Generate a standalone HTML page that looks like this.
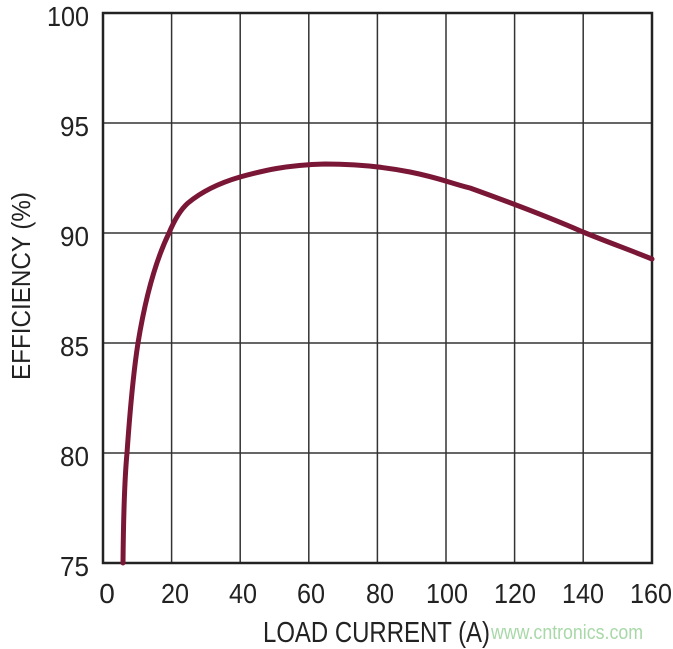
<!DOCTYPE html>
<html><head><style>
body{margin:0;background:#fff;}
svg{display:block;font-family:"Liberation Sans",sans-serif;}
</style></head><body>
<svg width="673" height="649" viewBox="0 0 673 649">
<g stroke="#333" stroke-width="1.5">
<line x1="171.6" y1="13" x2="171.6" y2="563"/>
<line x1="240.2" y1="13" x2="240.2" y2="563"/>
<line x1="308.8" y1="13" x2="308.8" y2="563"/>
<line x1="377.4" y1="13" x2="377.4" y2="563"/>
<line x1="446" y1="13" x2="446" y2="563"/>
<line x1="514.6" y1="13" x2="514.6" y2="563"/>
<line x1="583.2" y1="13" x2="583.2" y2="563"/>
<line x1="103" y1="123" x2="652" y2="123"/>
<line x1="103" y1="233" x2="652" y2="233"/>
<line x1="103" y1="343" x2="652" y2="343"/>
<line x1="103" y1="453" x2="652" y2="453"/>
</g>
<rect x="103" y="13" width="549" height="550" fill="none" stroke="#222" stroke-width="2.5"/>
<path d="M123,563 C123.5,510 124.5,480 127,453 C130,410 133,375 138,343 C145,300 155,262 169,233 C174,221 180,210 188,203 C200,193 216,184 240,177 C262,171 285,165 325,164 C350,164 380,166 410,172 C440,178 450,183 470,188 C520,206 560,222 583,232 C610,243 630,250 652,259" fill="none" stroke="#7a1737" stroke-width="5" stroke-linecap="round"/>
<g font-size="28" fill="#222" text-anchor="end">
<text x="89" y="26" textLength="42" lengthAdjust="spacingAndGlyphs">100</text>
<text x="89" y="136" textLength="29" lengthAdjust="spacingAndGlyphs">95</text>
<text x="89" y="246" textLength="29" lengthAdjust="spacingAndGlyphs">90</text>
<text x="89" y="356" textLength="29" lengthAdjust="spacingAndGlyphs">85</text>
<text x="89" y="466" textLength="29" lengthAdjust="spacingAndGlyphs">80</text>
<text x="89" y="576" textLength="29" lengthAdjust="spacingAndGlyphs">75</text>
</g>
<g font-size="28" fill="#222" text-anchor="middle" transform="translate(0,603)">
<text x="107" y="0">0</text>
<text x="175" y="0" textLength="28" lengthAdjust="spacingAndGlyphs">20</text>
<text x="243" y="0" textLength="28" lengthAdjust="spacingAndGlyphs">40</text>
<text x="311" y="0" textLength="28" lengthAdjust="spacingAndGlyphs">60</text>
<text x="380" y="0" textLength="28" lengthAdjust="spacingAndGlyphs">80</text>
<text x="447" y="0" textLength="42" lengthAdjust="spacingAndGlyphs">100</text>
<text x="515" y="0" textLength="42" lengthAdjust="spacingAndGlyphs">120</text>
<text x="583" y="0" textLength="42" lengthAdjust="spacingAndGlyphs">140</text>
<text x="651" y="0" textLength="42" lengthAdjust="spacingAndGlyphs">160</text>
</g>
<text x="263" y="642" font-size="29" fill="#222" textLength="227" lengthAdjust="spacingAndGlyphs">LOAD CURRENT (A)</text>
<text transform="translate(30,380) rotate(-90)" font-size="26" fill="#222" textLength="188" lengthAdjust="spacingAndGlyphs">EFFICIENCY (%)</text>
<text x="491" y="639" font-size="20" fill="#a8d8a8" textLength="152" lengthAdjust="spacingAndGlyphs">www.cntronics.com</text>
</svg>
</body></html>
